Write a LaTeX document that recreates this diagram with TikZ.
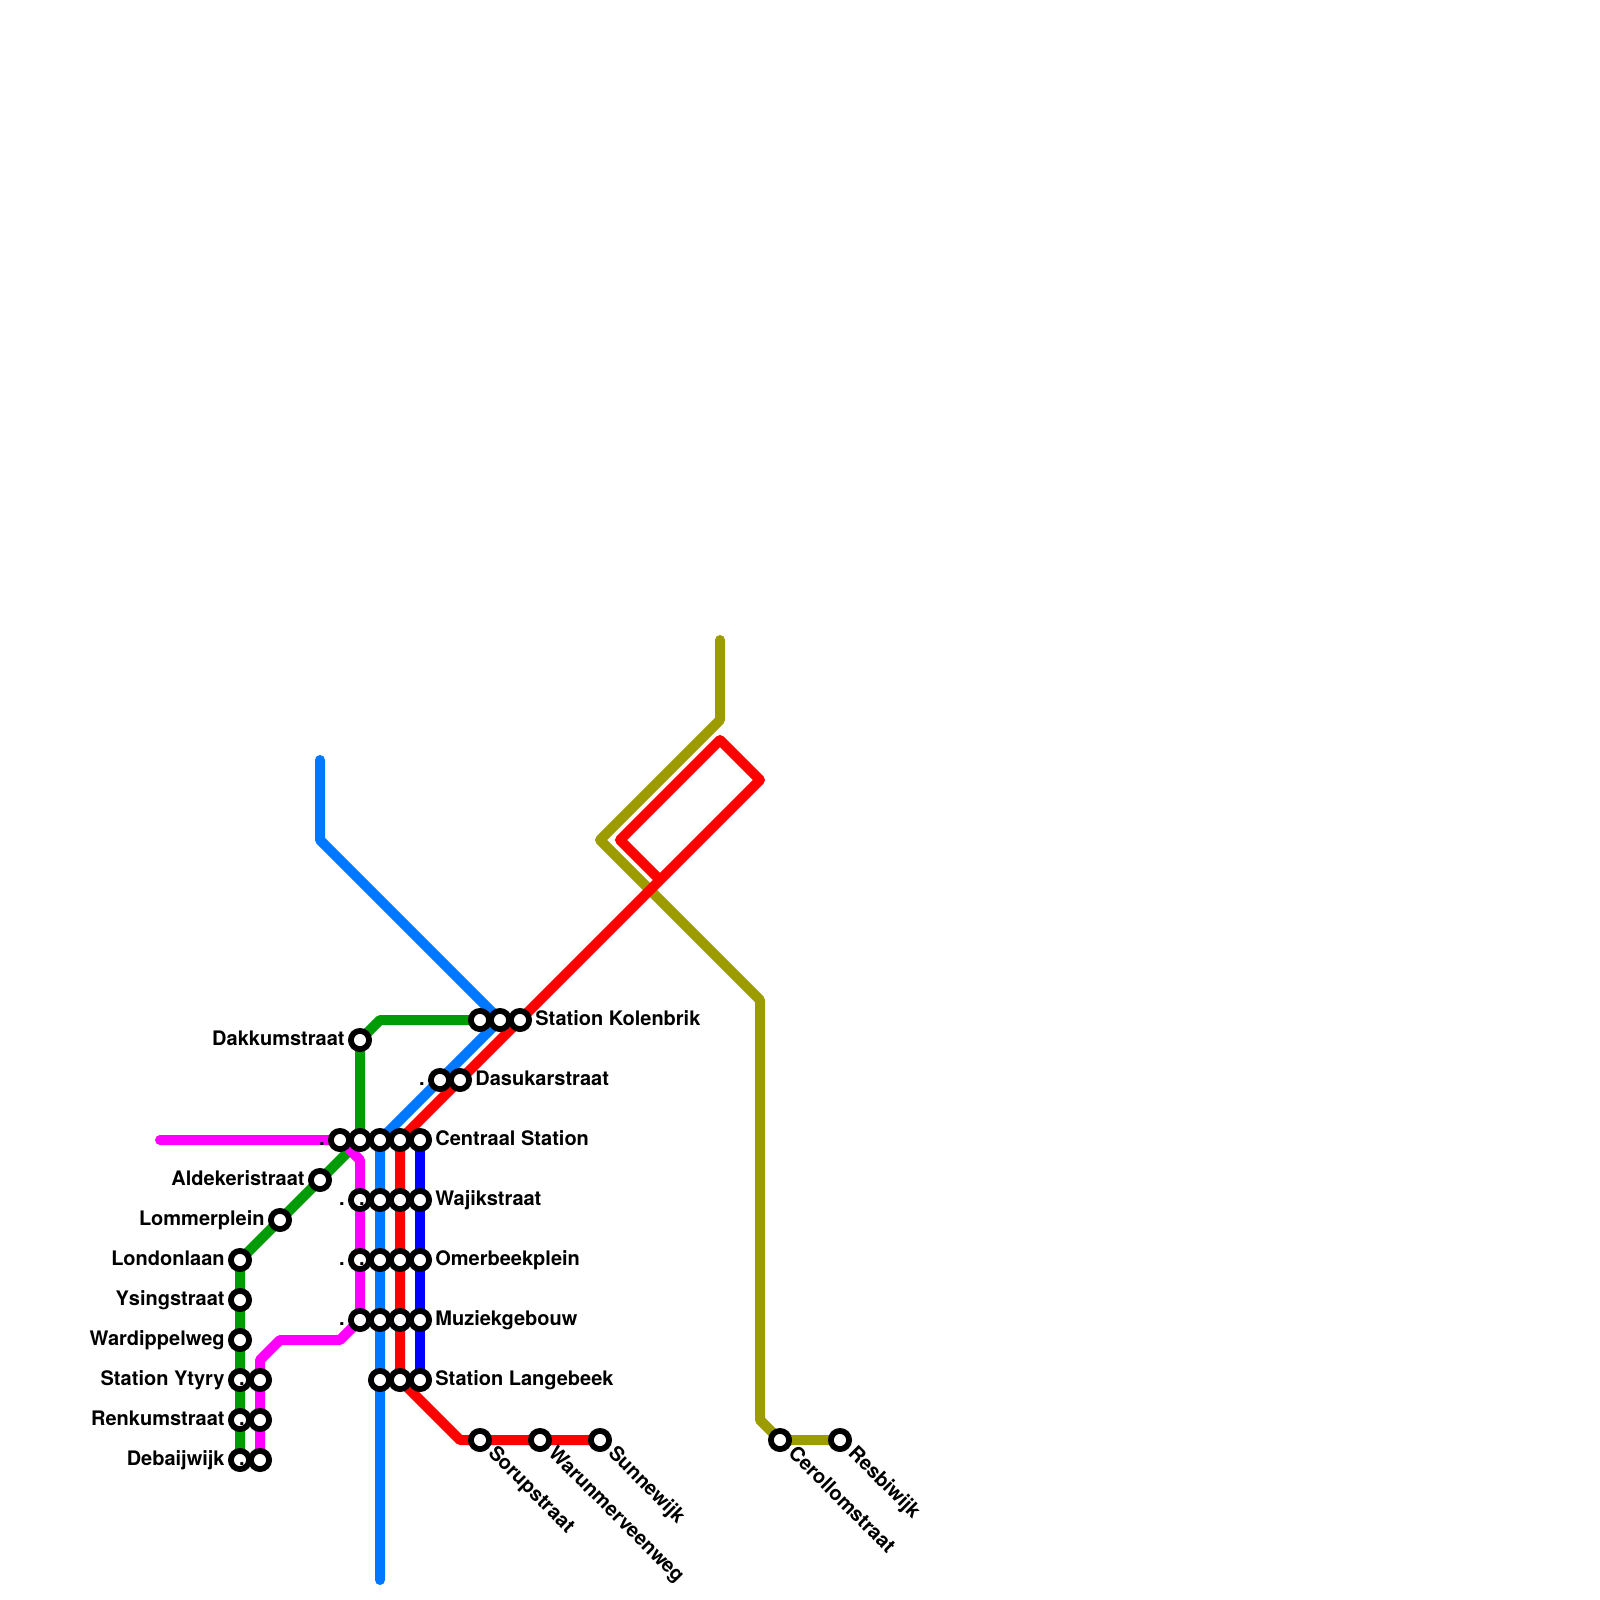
\documentclass[tikz,border=0pt]{standalone}
\usepackage{fontspec}
\setmainfont{TeX Gyre Heros}
\usetikzlibrary{backgrounds}
\tikzset{
  x=0.5pt,y=-0.5pt,
  stn/.style={circle,draw=black,fill=white,line width=2.9pt,minimum size=9.1pt,inner sep=0pt,outer sep=0pt},
  metro/.style={line width=5pt,line cap=round,line join=round},
  lblR/.style={anchor=base west,inner sep=0pt,font=\bfseries\fontsize{10}{12}\selectfont,text=black},
  lblL/.style={anchor=base east,inner sep=0pt,font=\bfseries\fontsize{10}{12}\selectfont,text=black},
  lblD/.style={anchor=base west,inner sep=0pt,rotate=-45,font=\bfseries\fontsize{10}{12}\selectfont,text=black},
}
\definecolor{cgreen}{HTML}{009C08}
\definecolor{cmag}{HTML}{FF00FF}
\definecolor{csky}{HTML}{0078FF}
\definecolor{cred}{HTML}{FF0000}
\definecolor{colive}{HTML}{9C9C00}
\definecolor{cblue}{HTML}{0000FF}
\begin{document}
\begin{tikzpicture}
\useasboundingbox (0,0) rectangle (1600,1600);
% bends and free ends
\coordinate (g1) at (360,1140);
\coordinate (g2) at (380,1020);
\coordinate (m0) at (160,1140);
\coordinate (m1) at (360,1160);
\coordinate (m2) at (340,1340);
\coordinate (m3) at (280,1340);
\coordinate (m4) at (260,1360);
\coordinate (s0) at (320,760);
\coordinate (s1) at (320,840);
\coordinate (s2) at (380,1580);
\coordinate (r1) at (460,1440);
\coordinate (r2) at (760,780);
\coordinate (r3) at (720,740);
\coordinate (r4) at (620,840);
\coordinate (r5) at (660,880);
\coordinate (o0) at (720,640);
\coordinate (o1) at (720,720);
\coordinate (o2) at (600,840);
\coordinate (o3) at (760,1000);
\coordinate (o4) at (760,1420);
% stations
\node[stn] (dakk) at (360,1040) {};
\node[stn] (alde) at (320,1180) {};
\node[stn] (lomm) at (280,1220) {};
\node[stn] (lond) at (240,1260) {};
\node[stn] (ysin) at (240,1300) {};
\node[stn] (ward) at (240,1340) {};
\node[stn] (ytyA) at (240,1380) {};
\node[stn] (renA) at (240,1420) {};
\node[stn] (debA) at (240,1460) {};
\node[stn] (ytyB) at (260,1380) {};
\node[stn] (renB) at (260,1420) {};
\node[stn] (debB) at (260,1460) {};
\node[stn] (cenA) at (340,1140) {};
\node[stn] (cenB) at (360,1140) {};
\node[stn] (cenC) at (380,1140) {};
\node[stn] (cenD) at (400,1140) {};
\node[stn] (cenE) at (420,1140) {};
\node[stn] (wajB) at (360,1200) {};
\node[stn] (wajC) at (380,1200) {};
\node[stn] (wajD) at (400,1200) {};
\node[stn] (wajE) at (420,1200) {};
\node[stn] (omeB) at (360,1260) {};
\node[stn] (omeC) at (380,1260) {};
\node[stn] (omeD) at (400,1260) {};
\node[stn] (omeE) at (420,1260) {};
\node[stn] (muzB) at (360,1320) {};
\node[stn] (muzC) at (380,1320) {};
\node[stn] (muzD) at (400,1320) {};
\node[stn] (muzE) at (420,1320) {};
\node[stn] (lanC) at (380,1380) {};
\node[stn] (lanD) at (400,1380) {};
\node[stn] (lanE) at (420,1380) {};
\node[stn] (kolA) at (480,1020) {};
\node[stn] (kolB) at (500,1020) {};
\node[stn] (kolC) at (520,1020) {};
\node[stn] (dasA) at (440,1080) {};
\node[stn] (dasB) at (460,1080) {};
\node[stn] (soru) at (480,1440) {};
\node[stn] (waru) at (540,1440) {};
\node[stn] (sunn) at (600,1440) {};
\node[stn] (cero) at (780,1440) {};
\node[stn] (resb) at (840,1440) {};
% lines
\begin{scope}[on background layer]
\draw[metro,colive] (o0) -- (o1) -- (o2) -- (o3) -- (o4) -- (cero.center) -- (resb.center);
\draw[metro,cgreen] (debA.center) -- (lond.center) -- (g1) -- (dakk.center) -- (g2) -- (kolA.center);
\draw[metro,cmag] (m0) -- (cenA.center) -- (m1) -- (muzB.center) -- (m2) -- (m3) -- (m4) -- (debB.center);
\draw[metro,csky] (s0) -- (s1) -- (kolB.center) -- (cenC.center) -- (s2);
\draw[metro,cred] (sunn.center) -- (r1) -- (lanD.center) -- (cenD.center) -- (r2) -- (r3) -- (r4) -- (r5);
\draw[metro,cblue] (cenE.center) -- (lanE.center);
\end{scope}
% labels
\node[lblL] (t1) at ([shift={(-15,5)}]dakk.center) {Dakkumstraat};
\node[lblL] (t2) at ([shift={(-15,5)}]alde.center) {Aldekeristraat};
\node[lblL] (t3) at ([shift={(-15,5)}]lomm.center) {Lommerplein};
\node[lblL] (t4) at ([shift={(-15,5)}]lond.center) {Londonlaan};
\node[lblL] (t5) at ([shift={(-15,5)}]ysin.center) {Ysingstraat};
\node[lblL] (t6) at ([shift={(-15,5)}]ward.center) {Wardippelweg};
\node[lblL] (t7) at ([shift={(-15,5)}]ytyA.center) {Station Ytyry};
\node[lblL] (t8) at ([shift={(-15,5)}]renA.center) {Renkumstraat};
\node[lblL] (t9) at ([shift={(-15,5)}]debA.center) {Debaijwijk};
\node[lblR] (t10) at ([shift={(15,5)}]cenE.center) {Centraal Station};
\node[lblR] (t11) at ([shift={(15,5)}]wajE.center) {Wajikstraat};
\node[lblR] (t12) at ([shift={(15,5)}]omeE.center) {Omerbeekplein};
\node[lblR] (t13) at ([shift={(15,5)}]muzE.center) {Muziekgebouw};
\node[lblR] (t14) at ([shift={(15,5)}]lanE.center) {Station Langebeek};
\node[lblR] (t15) at ([shift={(15,5)}]kolC.center) {Station Kolenbrik};
\node[lblR] (t16) at ([shift={(15,5)}]dasB.center) {Dasukarstraat};
\node[lblD] (t17) at ([shift={(7,14)}]soru.center) {Sorupstraat};
\node[lblD] (t18) at ([shift={(7,14)}]waru.center) {Warunmerveenweg};
\node[lblD] (t19) at ([shift={(7,14)}]sunn.center) {Sunnewijk};
\node[lblD] (t20) at ([shift={(7,14)}]cero.center) {Cerollomstraat};
\node[lblD] (t21) at ([shift={(7,14)}]resb.center) {Resbiwijk};
% single-dot labels
\node[lblL] (d1) at ([shift={(-15,5)}]cenA.center) {.};
\node[lblL] (d2) at ([shift={(-15,5)}]wajB.center) {.};
\node[lblL] (d3) at ([shift={(-15,5)}]wajC.center) {.};
\node[lblL] (d4) at ([shift={(-15,5)}]omeB.center) {.};
\node[lblL] (d5) at ([shift={(-15,5)}]omeC.center) {.};
\node[lblL] (d6) at ([shift={(-15,5)}]muzB.center) {.};
\node[lblL] (d7) at ([shift={(-15,5)}]ytyB.center) {.};
\node[lblL] (d8) at ([shift={(-15,5)}]renB.center) {.};
\node[lblL] (d9) at ([shift={(-15,5)}]debB.center) {.};
\node[lblL] (d10) at ([shift={(-15,5)}]dasA.center) {.};
\end{tikzpicture}
\end{document}
